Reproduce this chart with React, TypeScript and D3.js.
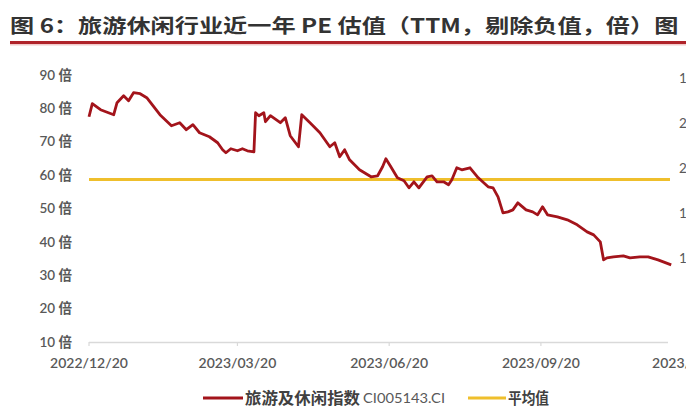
import * as d3 from 'd3';

const dates = [
  '2022-12-20', '2022-12-22', '2022-12-27', '2023-01-04', '2023-01-06', '2023-01-10', '2023-01-13', '2023-01-16',
  '2023-01-20', '2023-01-24', '2023-02-01', '2023-02-08', '2023-02-13', '2023-02-17', '2023-02-21', '2023-02-25',
  '2023-03-03', '2023-03-08', '2023-03-11', '2023-03-13', '2023-03-16', '2023-03-20', '2023-03-23', '2023-03-26',
  '2023-03-30', '2023-03-31', '2023-04-02', '2023-04-05', '2023-04-06', '2023-04-09', '2023-04-15', '2023-04-18',
  '2023-04-21', '2023-04-26', '2023-04-28', '2023-05-03', '2023-05-09', '2023-05-15', '2023-05-18', '2023-05-21',
  '2023-05-24', '2023-05-27', '2023-06-02', '2023-06-09', '2023-06-13', '2023-06-16', '2023-06-18', '2023-06-21',
  '2023-06-25', '2023-06-29', '2023-07-02', '2023-07-05', '2023-07-08', '2023-07-13', '2023-07-16', '2023-07-19',
  '2023-07-23', '2023-07-26', '2023-07-28', '2023-07-31', '2023-08-03', '2023-08-08', '2023-08-13', '2023-08-19',
  '2023-08-22', '2023-08-25', '2023-08-28', '2023-08-31', '2023-09-03', '2023-09-06', '2023-09-11', '2023-09-15',
  '2023-09-18', '2023-09-21', '2023-09-24', '2023-09-30', '2023-10-06', '2023-10-12', '2023-10-18', '2023-10-22',
  '2023-10-26', '2023-10-28', '2023-10-30', '2023-11-03', '2023-11-09', '2023-11-13', '2023-11-19', '2023-11-24',
  '2023-11-30', '2023-12-08',
];

const peValues = [
  77.5, 81.4, 79.6, 78.1, 81.7, 83.8, 82.3, 84.7,
  84.4, 83.2, 78.1, 74.8, 75.7, 73.6, 75.1, 72.7,
  71.5, 69.7, 67.6, 66.7, 67.9, 67.3, 67.9, 67.3,
  67.0, 78.7, 77.8, 78.7, 76.0, 77.8, 75.7, 77.2,
  71.8, 68.5, 78.1, 75.7, 72.7, 68.5, 69.7, 65.5,
  67.6, 64.6, 61.6, 59.5, 59.8, 62.5, 64.9, 62.5,
  59.2, 58.3, 56.2, 58.0, 56.2, 59.5, 59.8, 58.0,
  58.0, 57.1, 58.6, 62.2, 61.6, 62.2, 59.2, 56.5,
  56.2, 53.5, 48.7, 49.0, 49.6, 51.7, 49.6, 49.0,
  48.1, 50.5, 48.1, 47.5, 46.6, 45.1, 43.0, 42.1,
  40.0, 34.6, 35.2, 35.5, 35.8, 35.2, 35.5, 35.5,
  34.6, 33.1,
];

const averagePE = 58.7;

const yTicks = [10, 20, 30, 40, 50, 60, 70, 80, 90];
const xTickDates = ['2022-12-20', '2023-03-20', '2023-06-20', '2023-09-20', '2023-12-20'];
const rightTickLabels = ['1', '2', '2', '1', '1'];

const title = '图 6：旅游休闲行业近一年 PE 估值（TTM，剔除负值，倍）图';
const seriesName = '旅游及休闲指数';
const seriesCode = 'CI005143.CI';
const averageName = '平均值';

const W = 686;
const H = 417;
const RED = '#A3141B';
const GOLD = '#EFBF2C';
const GREY = '#595959';
const CJK = "'Noto Sans CJK SC', sans-serif";
const NUM = "Lato, 'Noto Sans CJK SC', sans-serif";

export default function App() {
  const parse = d3.timeParse('%Y-%m-%d');
  const fmt = d3.timeFormat('%Y/%m/%d');

  const x = d3.scaleTime()
    .domain([parse('2022-12-20')!, parse('2023-12-20')!])
    .range([89, 691]);
  const y = d3.scaleLinear().domain([10, 90]).range([342, 75]);

  const points = dates.map((d, i) => ({ date: parse(d)!, v: peValues[i] }));
  const line = d3.line<{ date: Date; v: number }>()
    .x(d => x(d.date))
    .y(d => y(d.v));

  const xStart = x(points[0].date);
  const axisEnd = 668;

  return (
    <svg width={W} height={H} style={{ position: 'absolute', left: 0, top: 0, background: '#fff' }}>
      {/* title, glyphs are stretched wide in the source image */}
      <g transform="translate(10,33) scale(1.24,1)">
        <text x={0} y={0} fontFamily={CJK} fontSize={19.5} fontWeight={700} fill="#333">{title}</text>
      </g>
      <rect x={10} y={41} width={W} height={3} fill="#B0232A" />
      <rect x={10} y={44} width={W} height={1.5} fill="#E9A8A8" opacity={0.6} />

      {/* y ticks */}
      {yTicks.map(t => (
        <text key={t} x={72} y={y(t)} dy="0.35em" textAnchor="end" fontFamily={NUM}
          fontSize={13.5} fontWeight={600} fill={GREY}>{`${t} 倍`}</text>
      ))}

      {/* right axis labels, cut off by the image edge */}
      {rightTickLabels.map((t, i) => (
        <text key={i} x={679} y={y(90) + 3 + i * 45} dy="0.35em" fontFamily={NUM} fontSize={13.5}
          fill={GREY}>{t}</text>
      ))}

      {/* x axis */}
      <line x1={xStart} x2={axisEnd} y1={342.5} y2={342.5} stroke="#D9D9D9" strokeWidth={1.5} />
      {xTickDates.slice(0, 4).map(d => (
        <line key={d} x1={x(parse(d)!)} x2={x(parse(d)!)} y1={342} y2={346} stroke="#D9D9D9" strokeWidth={1.2} />
      ))}
      {xTickDates.map(d => (
        <text key={d} x={x(parse(d)!)} y={368} textAnchor="middle" fontFamily={NUM} fontSize={14}
          fontWeight={600} fill={GREY}>{fmt(parse(d)!)}</text>
      ))}

      {/* average line */}
      <line x1={xStart} x2={670} y1={y(averagePE)} y2={y(averagePE)} stroke={GOLD} strokeWidth={3} />

      {/* PE line */}
      <path d={line(points) ?? ''} fill="none" stroke={RED} strokeWidth={2.8} strokeLinejoin="round" />

      {/* legend */}
      <line x1={203} x2={243} y1={398} y2={398} stroke={RED} strokeWidth={3} />
      <text x={245} y={403.5} fontFamily={CJK} fontSize={15.5} fontWeight={700} fill="#404040"
        textLength={115} lengthAdjust="spacingAndGlyphs">{seriesName}</text>
      <text x={363} y={403} fontFamily={NUM} fontSize={13.5} fill={GREY}
        textLength={82} lengthAdjust="spacingAndGlyphs">{seriesCode}</text>
      <line x1={468} x2={506} y1={398} y2={398} stroke={GOLD} strokeWidth={3} />
      <text x={508} y={403.5} fontFamily={CJK} fontSize={15.5} fontWeight={700} fill="#404040"
        textLength={41} lengthAdjust="spacingAndGlyphs">{averageName}</text>
    </svg>
  );
}
